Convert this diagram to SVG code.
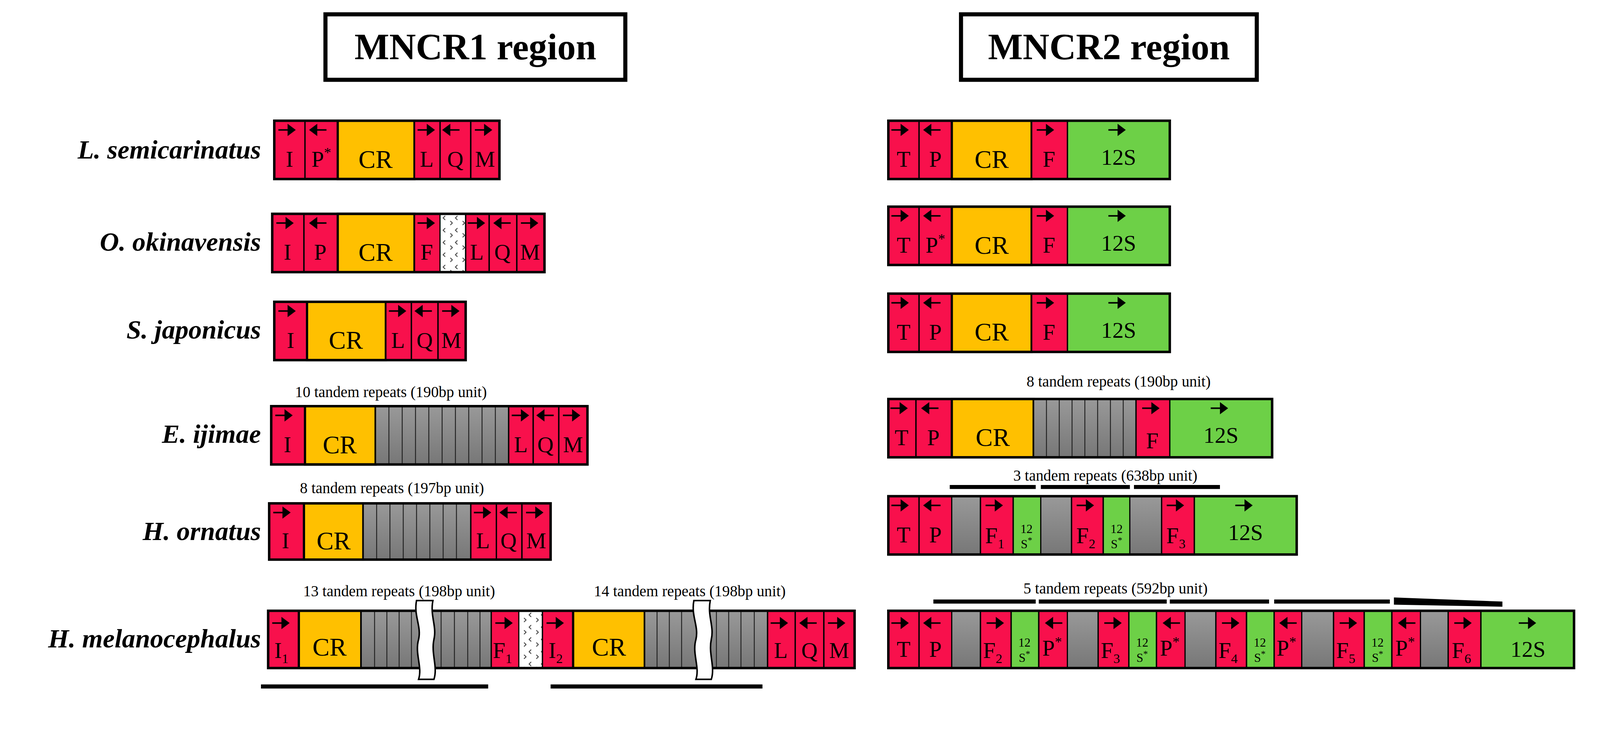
<svg xmlns="http://www.w3.org/2000/svg" xmlns:xlink="http://www.w3.org/1999/xlink" width="4462" height="1913" viewBox="0 0 4462 1913">
<style>
.r{fill:#F8104C;stroke:#000;stroke-width:1.3}
.y{fill:#FFC000;stroke:#000;stroke-width:2.2}
.g{fill:#6DD047;stroke:#000;stroke-width:1.3}
.k{fill:url(#gr);stroke:#000;stroke-width:1}
.w{fill:url(#dots);stroke:#000;stroke-width:1}
.o{fill:none;stroke:#000;stroke-width:2.4}
.s{stroke:#222;stroke-width:0.9}
text{font-family:"Liberation Serif","DejaVu Serif",serif;fill:#000}
.t{font-size:22px;text-anchor:middle}
.c{font-size:25px;text-anchor:middle}
.sm{font-size:12px;text-anchor:middle}
.sp{font-size:26px;font-weight:bold;font-style:italic;text-anchor:end}
.rep{font-size:15px;text-anchor:middle}
.ttl{font-size:36px;font-weight:bold;text-anchor:middle}
.bar{stroke:#000;stroke-width:4}
.brk{fill:#fff;stroke:#000;stroke-width:1.5}
</style>
<defs>
<linearGradient id="gr" x1="0" y1="0" x2="0" y2="1"><stop offset="0" stop-color="#999"/><stop offset="1" stop-color="#777"/></linearGradient>
<pattern id="dots" width="12" height="12" patternUnits="userSpaceOnUse"><rect width="12" height="12" fill="#fff"/><path d="M3 2 L1 4 L3 6 M8 7 L10 9 L8 11" fill="none" stroke="#333" stroke-width="0.8"/></pattern>
<symbol id="ra" overflow="visible"><path d="M0 0H10" stroke="#000" stroke-width="1.5"/><path d="M9 -6L17 0L9 6Z" fill="#000"/></symbol>
<symbol id="la" overflow="visible"><path d="M7 0H17" stroke="#000" stroke-width="1.5"/><path d="M8 -6L0 0L8 6Z" fill="#000"/></symbol>
</defs>
<g transform="scale(2.62)">
<g id="titles">
<rect x="318" y="14" width="293" height="64" fill="#fff" stroke="#000" stroke-width="4"/>
<text class="ttl" x="464.5" y="58">MNCR1 region</text>
<rect x="939" y="14" width="289" height="64" fill="#fff" stroke="#000" stroke-width="4"/>
<text class="ttl" x="1083.5" y="58">MNCR2 region</text>
</g>
<g id="species">
<text class="sp" x="255" y="155">L. semicarinatus</text>
<text class="sp" x="255" y="245">O. okinavensis</text>
<text class="sp" x="255" y="331">S. japonicus</text>
<text class="sp" x="255" y="433">E. ijimae</text>
<text class="sp" x="255" y="528">H. ornatus</text>
<text class="sp" x="255" y="633">H. melanocephalus</text>
</g>

<g id="r1a" transform="translate(0,118)">
<rect class="r" x="268" y="0" width="30" height="57"/><rect class="r" x="298" y="0" width="32" height="57"/>
<rect class="y" x="330" y="0" width="75" height="57"/>
<rect class="r" x="405" y="0" width="25" height="57"/><rect class="r" x="430" y="0" width="30" height="57"/><rect class="r" x="460" y="0" width="28" height="57"/>
<rect class="o" x="268" y="0" width="220" height="57"/>
<use href="#ra" x="272" y="9"/><use href="#la" x="302" y="9"/><use href="#ra" x="408" y="9"/><use href="#la" x="432" y="9"/><use href="#ra" x="464" y="9"/>
<text class="t" x="283" y="45">I</text><text class="t" x="314" y="45">P<tspan font-size="14" dy="-9">*</tspan></text><text class="c" x="367" y="46">CR</text>
<text class="t" x="417" y="45">L</text><text class="t" x="445" y="45">Q</text><text class="t" x="474" y="45">M</text>
</g>
<g id="r1b" transform="translate(0,118)">
<rect class="r" x="868" y="0" width="30" height="57"/><rect class="r" x="898" y="0" width="32" height="57"/>
<rect class="y" x="930" y="0" width="78" height="57"/><rect class="r" x="1008" y="0" width="35" height="57"/>
<rect class="g" x="1043" y="0" width="100" height="57"/>
<rect class="o" x="868" y="0" width="275" height="57"/>
<use href="#ra" x="871" y="9"/><use href="#la" x="902" y="9"/><use href="#ra" x="1013" y="9"/><use href="#ra" x="1083" y="9"/>
<text class="t" x="883" y="45">T</text><text class="t" x="914" y="45">P</text><text class="c" x="969" y="46">CR</text><text class="t" x="1025" y="45">F</text><text class="t" x="1093" y="43">12S</text>
</g>

<g id="r2a" transform="translate(0,209)">
<rect class="r" x="266" y="0" width="31" height="57"/><rect class="r" x="297" y="0" width="33" height="57"/>
<rect class="y" x="330" y="0" width="75" height="57"/><rect class="r" x="405" y="0" width="25" height="57"/>
<rect class="w" x="430" y="0" width="25" height="57"/>
<rect class="r" x="455" y="0" width="23" height="57"/><rect class="r" x="478" y="0" width="27" height="57"/><rect class="r" x="505" y="0" width="27" height="57"/>
<rect class="o" x="266" y="0" width="266" height="57"/>
<use href="#ra" x="270" y="9"/><use href="#la" x="302" y="9"/><use href="#ra" x="408" y="9"/><use href="#ra" x="457" y="9"/><use href="#la" x="482" y="9"/><use href="#ra" x="509" y="9"/>
<text class="t" x="281" y="45">I</text><text class="t" x="313" y="45">P</text><text class="c" x="367" y="46">CR</text><text class="t" x="417" y="45">F</text>
<text class="t" x="466" y="45">L</text><text class="t" x="491" y="45">Q</text><text class="t" x="518" y="45">M</text>
</g>
<g id="r2b" transform="translate(0,202)">
<rect class="r" x="868" y="0" width="30" height="57"/><rect class="r" x="898" y="0" width="32" height="57"/>
<rect class="y" x="930" y="0" width="78" height="57"/><rect class="r" x="1008" y="0" width="35" height="57"/>
<rect class="g" x="1043" y="0" width="100" height="57"/>
<rect class="o" x="868" y="0" width="275" height="57"/>
<use href="#ra" x="871" y="9"/><use href="#la" x="902" y="9"/><use href="#ra" x="1013" y="9"/><use href="#ra" x="1083" y="9"/>
<text class="t" x="883" y="45">T</text><text class="t" x="914" y="45">P<tspan font-size="14" dy="-9">*</tspan></text><text class="c" x="969" y="46">CR</text><text class="t" x="1025" y="45">F</text><text class="t" x="1093" y="43">12S</text>
</g>

<g id="r3a" transform="translate(0,295)">
<rect class="r" x="268" y="0" width="32" height="57"/><rect class="y" x="300" y="0" width="77" height="57"/>
<rect class="r" x="377" y="0" width="25" height="57"/><rect class="r" x="402" y="0" width="26" height="57"/><rect class="r" x="428" y="0" width="27" height="57"/>
<rect class="o" x="268" y="0" width="187" height="57"/>
<use href="#ra" x="272" y="9"/><use href="#ra" x="380" y="9"/><use href="#la" x="405" y="9"/><use href="#ra" x="432" y="9"/>
<text class="t" x="284" y="45">I</text><text class="c" x="338" y="46">CR</text><text class="t" x="389" y="45">L</text><text class="t" x="415" y="45">Q</text><text class="t" x="441" y="45">M</text>
</g>
<g id="r3b" transform="translate(0,287)">
<rect class="r" x="868" y="0" width="30" height="57"/><rect class="r" x="898" y="0" width="32" height="57"/>
<rect class="y" x="930" y="0" width="78" height="57"/><rect class="r" x="1008" y="0" width="35" height="57"/>
<rect class="g" x="1043" y="0" width="100" height="57"/>
<rect class="o" x="868" y="0" width="275" height="57"/>
<use href="#ra" x="871" y="9"/><use href="#la" x="902" y="9"/><use href="#ra" x="1013" y="9"/><use href="#ra" x="1083" y="9"/>
<text class="t" x="883" y="45">T</text><text class="t" x="914" y="45">P</text><text class="c" x="969" y="46">CR</text><text class="t" x="1025" y="45">F</text><text class="t" x="1093" y="43">12S</text>
</g>

<text class="rep" x="382" y="388">10 tandem repeats (190bp unit)</text>
<g id="r4a" transform="translate(0,397)">
<rect class="r" x="265" y="0" width="33" height="57"/><rect class="y" x="298" y="0" width="69" height="57"/>
<rect class="k" x="367" y="0" width="130" height="57"/>
<path class="s" d="M380 0V57M393 0V57M406 0V57M419 0V57M432 0V57M445 0V57M458 0V57M471 0V57M484 0V57"/>
<rect class="r" x="497" y="0" width="24" height="57"/><rect class="r" x="521" y="0" width="25" height="57"/><rect class="r" x="546" y="0" width="28" height="57"/>
<rect class="o" x="265" y="0" width="309" height="57"/>
<use href="#ra" x="269" y="9"/><use href="#ra" x="500" y="9"/><use href="#la" x="524" y="9"/><use href="#ra" x="550" y="9"/>
<text class="t" x="281" y="45">I</text><text class="c" x="332" y="46">CR</text><text class="t" x="509" y="45">L</text><text class="t" x="533" y="45">Q</text><text class="t" x="560" y="45">M</text>
</g>
<text class="rep" x="1093" y="378">8 tandem repeats (190bp unit)</text>
<g id="r4b" transform="translate(0,390)">
<rect class="r" x="868" y="0" width="27" height="57"/><rect class="r" x="895" y="0" width="35" height="57"/>
<rect class="y" x="930" y="0" width="80" height="57"/>
<rect class="k" x="1010" y="0" width="100" height="57"/>
<path class="s" d="M1022.5 0V57M1035 0V57M1047.5 0V57M1060 0V57M1072.5 0V57M1085 0V57M1097.5 0V57"/>
<rect class="r" x="1110" y="0" width="33" height="57"/><rect class="g" x="1143" y="0" width="100" height="57"/>
<rect class="o" x="868" y="0" width="375" height="57"/>
<use href="#ra" x="870" y="9"/><use href="#la" x="900" y="9"/><use href="#ra" x="1116" y="9"/><use href="#ra" x="1183" y="9"/>
<text class="t" x="881" y="45">T</text><text class="t" x="912" y="45">P</text><text class="c" x="970" y="46">CR</text><text class="t" x="1126" y="48">F</text><text class="t" x="1193" y="43">12S</text>
</g>

<text class="rep" x="383" y="482">8 tandem repeats (197bp unit)</text>
<g id="r5a" transform="translate(0,492)">
<rect class="r" x="263" y="0" width="34" height="55"/><rect class="y" x="297" y="0" width="58" height="55"/>
<rect class="k" x="355" y="0" width="105" height="55"/>
<path class="s" d="M368 0V55M381 0V55M394 0V55M407 0V55M420 0V55M433 0V55M446 0V55"/>
<rect class="r" x="460" y="0" width="25" height="55"/><rect class="r" x="485" y="0" width="25" height="55"/><rect class="r" x="510" y="0" width="28" height="55"/>
<rect class="o" x="263" y="0" width="275" height="55"/>
<use href="#ra" x="267" y="9"/><use href="#ra" x="463" y="9"/><use href="#la" x="488" y="9"/><use href="#ra" x="514" y="9"/>
<text class="t" x="279" y="44">I</text><text class="c" x="326" y="45">CR</text><text class="t" x="472" y="44">L</text><text class="t" x="497" y="44">Q</text><text class="t" x="524" y="44">M</text>
</g>
<text class="rep" x="1080" y="470">3 tandem repeats (638bp unit)</text>
<path class="bar" d="M928 476H1012M1017 476H1104M1108 476H1192"/>
<g id="r5b" transform="translate(0,485)">
<rect class="r" x="868" y="0" width="30" height="57"/><rect class="r" x="898" y="0" width="32" height="57"/>
<rect class="k" x="930" y="0" width="28" height="57"/><rect class="r" x="958" y="0" width="32" height="57"/><rect class="g" x="990" y="0" width="27" height="57"/>
<rect class="k" x="1017" y="0" width="30" height="57"/><rect class="r" x="1047" y="0" width="31" height="57"/><rect class="g" x="1078" y="0" width="26" height="57"/>
<rect class="k" x="1104" y="0" width="31" height="57"/><rect class="r" x="1135" y="0" width="32" height="57"/><rect class="g" x="1167" y="0" width="100" height="57"/>
<rect class="o" x="868" y="0" width="399" height="57"/>
<use href="#ra" x="871" y="9"/><use href="#la" x="902" y="9"/><use href="#ra" x="963" y="9"/><use href="#ra" x="1052" y="9"/><use href="#ra" x="1140" y="9"/><use href="#ra" x="1207" y="9"/>
<text class="t" x="883" y="45">T</text><text class="t" x="914" y="45">P</text>
<text class="t" x="972" y="46">F<tspan font-size="13" dy="5">1</tspan></text><text class="sm" x="1003" y="36">12</text><text class="sm" x="1003" y="51">S<tspan font-size="9" dy="-5">*</tspan></text>
<text class="t" x="1061" y="46">F<tspan font-size="13" dy="5">2</tspan></text><text class="sm" x="1091" y="36">12</text><text class="sm" x="1091" y="51">S<tspan font-size="9" dy="-5">*</tspan></text>
<text class="t" x="1149" y="46">F<tspan font-size="13" dy="5">3</tspan></text><text class="t" x="1217" y="43">12S</text>
</g>

<text class="rep" x="390" y="583">13 tandem repeats (198bp unit)</text>
<text class="rep" x="674" y="583">14 tandem repeats (198bp unit)</text>
<g id="r6a" transform="translate(0,597)">
<rect class="r" x="262" y="0" width="30" height="56"/><rect class="y" x="292" y="0" width="61" height="56"/>
<rect class="k" x="353" y="0" width="127" height="56"/>
<path class="s" d="M366 0V56M378 0V56M390 0V56M402 0V56M431 0V56M444 0V56M457 0V56M469 0V56"/>
<rect class="r" x="480" y="0" width="27" height="56"/>
<rect class="w" x="507" y="0" width="23" height="56"/>
<rect class="r" x="530" y="0" width="30" height="56"/><rect class="y" x="560" y="0" width="70" height="56"/>
<rect class="k" x="630" y="0" width="120" height="56"/>
<path class="s" d="M642 0V56M654 0V56M666 0V56M700 0V56M712 0V56M724 0V56M737 0V56"/>
<rect class="r" x="750" y="0" width="27" height="56"/><rect class="r" x="777" y="0" width="28" height="56"/><rect class="r" x="805" y="0" width="30" height="56"/>
<rect class="o" x="262" y="0" width="573" height="56"/>
<path class="brk" d="M407 -10H423C420 5 427 15 424 28C421 42 428 55 424 67H409C413 55 405 42 409 28C412 15 404 5 407 -10Z"/>
<path class="brk" d="M678 -10H694C691 5 698 15 695 28C692 42 699 55 695 67H680C684 55 676 42 680 28C683 15 675 5 678 -10Z"/>
<use href="#ra" x="266" y="12"/><use href="#ra" x="484" y="12"/><use href="#ra" x="534" y="12"/><use href="#ra" x="753" y="12"/><use href="#la" x="781" y="12"/><use href="#ra" x="809" y="12"/>
<text class="t" x="275" y="46">I<tspan font-size="13" dy="5">1</tspan></text><text class="c" x="322" y="44">CR</text>
<text class="t" x="491" y="46">F<tspan font-size="13" dy="5">1</tspan></text>
<text class="t" x="543" y="46">I<tspan font-size="13" dy="5">2</tspan></text><text class="c" x="595" y="44">CR</text>
<text class="t" x="763" y="46">L</text><text class="t" x="791" y="46">Q</text><text class="t" x="820" y="46">M</text>
</g>
<path class="bar" d="M255 671H477M538 671H745"/>
<text class="rep" x="1090" y="580">5 tandem repeats (592bp unit)</text>
<path class="bar" d="M912 588H1012M1015 588H1140M1143 588H1240M1245 588H1358"/>
<path d="M1362 584L1468 588V593L1362 591Z" fill="#000"/>
<g id="r6b" transform="translate(0,597)">
<rect class="r" x="868" y="0" width="30" height="56"/><rect class="r" x="898" y="0" width="32" height="56"/>
<rect class="k" x="930" y="0" width="28" height="56"/><rect class="r" x="958" y="0" width="30" height="56"/><rect class="g" x="988" y="0" width="27" height="56"/><rect class="r" x="1015" y="0" width="28" height="56"/>
<rect class="k" x="1043" y="0" width="30" height="56"/><rect class="r" x="1073" y="0" width="30" height="56"/><rect class="g" x="1103" y="0" width="27" height="56"/><rect class="r" x="1130" y="0" width="28" height="56"/>
<rect class="k" x="1158" y="0" width="30" height="56"/><rect class="r" x="1188" y="0" width="30" height="56"/><rect class="g" x="1218" y="0" width="27" height="56"/><rect class="r" x="1245" y="0" width="27" height="56"/>
<rect class="k" x="1272" y="0" width="31" height="56"/><rect class="r" x="1303" y="0" width="30" height="56"/><rect class="g" x="1333" y="0" width="27" height="56"/><rect class="r" x="1360" y="0" width="28" height="56"/>
<rect class="k" x="1388" y="0" width="27" height="56"/><rect class="r" x="1415" y="0" width="32" height="56"/><rect class="g" x="1447" y="0" width="91" height="56"/>
<rect class="o" x="868" y="0" width="670" height="56"/>
<use href="#ra" x="871" y="12"/><use href="#la" x="902" y="12"/>
<use href="#ra" x="964" y="12"/><use href="#la" x="1021" y="12"/>
<use href="#ra" x="1079" y="12"/><use href="#la" x="1136" y="12"/>
<use href="#ra" x="1194" y="12"/><use href="#la" x="1250" y="12"/>
<use href="#ra" x="1309" y="12"/><use href="#la" x="1366" y="12"/>
<use href="#ra" x="1421" y="12"/><use href="#ra" x="1484" y="12"/>
<text class="t" x="883" y="45">T</text><text class="t" x="914" y="45">P</text>
<text class="t" x="970" y="46">F<tspan font-size="13" dy="5">2</tspan></text><text class="sm" x="1001" y="35">12</text><text class="sm" x="1001" y="50">S<tspan font-size="9" dy="-5">*</tspan></text><text class="t" x="1028" y="44">P<tspan font-size="14" dy="-9">*</tspan></text>
<text class="t" x="1085" y="46">F<tspan font-size="13" dy="5">3</tspan></text><text class="sm" x="1116" y="35">12</text><text class="sm" x="1116" y="50">S<tspan font-size="9" dy="-5">*</tspan></text><text class="t" x="1143" y="44">P<tspan font-size="14" dy="-9">*</tspan></text>
<text class="t" x="1200" y="46">F<tspan font-size="13" dy="5">4</tspan></text><text class="sm" x="1231" y="35">12</text><text class="sm" x="1231" y="50">S<tspan font-size="9" dy="-5">*</tspan></text><text class="t" x="1257" y="44">P<tspan font-size="14" dy="-9">*</tspan></text>
<text class="t" x="1315" y="46">F<tspan font-size="13" dy="5">5</tspan></text><text class="sm" x="1346" y="35">12</text><text class="sm" x="1346" y="50">S<tspan font-size="9" dy="-5">*</tspan></text><text class="t" x="1373" y="44">P<tspan font-size="14" dy="-9">*</tspan></text>
<text class="t" x="1428" y="46">F<tspan font-size="13" dy="5">6</tspan></text><text class="t" x="1493" y="45">12S</text>
</g>
</g>
</svg>
